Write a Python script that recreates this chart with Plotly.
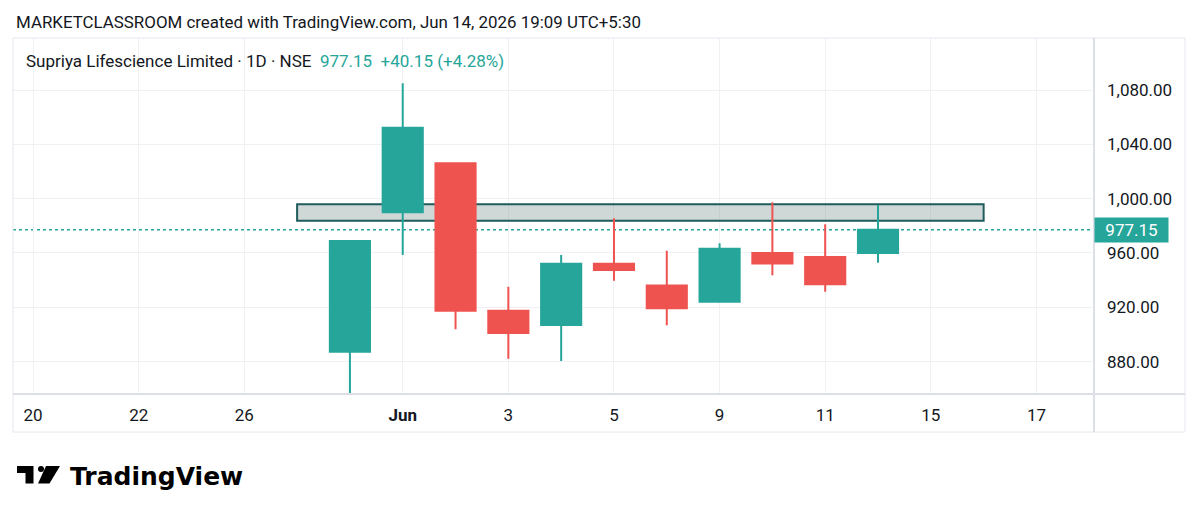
import pandas as pd
import plotly.graph_objects as go

"""Data"""
# trading calendar shown on the axis (weekends and the May 27 holiday are skipped)
holidays = ["2026-05-27"]
sessions = [
    d.strftime("%Y-%m-%d")
    for d in pd.bdate_range("2026-05-20", "2026-06-17")
    if d.strftime("%Y-%m-%d") not in holidays
]

dates = [
    "2026-05-29", "2026-06-01", "2026-06-02", "2026-06-03", "2026-06-04", "2026-06-05",
    "2026-06-08", "2026-06-09", "2026-06-10", "2026-06-11", "2026-06-12",
]
open_ = [887.2, 989.9, 1026.0, 917.4, 906.9, 952.0, 936.1, 924.1, 959.9, 957.0, 959.9]
high = [968.8, 1084.9, 1026.0, 935.1, 958.5, 985.5, 961.6, 967.1, 997.3, 981.1, 995.3]
low = [856.3, 958.5, 903.7, 882.1, 880.4, 939.5, 906.7, 924.1, 943.5, 931.4, 952.8]
close = [968.8, 1052.2, 917.4, 901.0, 952.0, 947.4, 919.2, 963.1, 952.3, 937.0, 977.15]

tick_dates = [
    "2026-05-20", "2026-05-22", "2026-05-26", "2026-06-01", "2026-06-03",
    "2026-06-05", "2026-06-09", "2026-06-11", "2026-06-15", "2026-06-17",
]
tick_text = ["20", "22", "26", "<b>Jun</b>", "3", "5", "9", "11", "15", "17"]
price_ticks = [880, 920, 960, 1000, 1040, 1080]

# drawn rectangle (resistance zone)
zone_start, zone_end = "2026-05-28", "2026-06-16"
zone_bottom, zone_top = 983.7, 995.8

title_text = "MARKETCLASSROOM created with TradingView.com, Jun 14, 2026 19:09 UTC+5:30"
symbol_text = "Supriya Lifescience Limited · 1D · NSE"

UP = "#26a69a"
DOWN = "#ef5350"
TEXT = "#131722"

# page geometry (pixels) -> paper coordinates
W, H = 1200, 520
L, R, T, B = 13, 106, 38, 126
PW, PH = W - L - R, H - T - B


def px(x):
    return (x - L) / PW


def py(y):
    return (H - B - y) / PH


x_idx = [sessions.index(d) for d in dates]
change = close[-1] - close[-2]
pct = change / close[-2] * 100

fig = go.Figure(
    go.Candlestick(
        x=x_idx,
        open=open_,
        high=high,
        low=low,
        close=close,
        increasing=dict(line=dict(color=UP, width=2), fillcolor=UP),
        decreasing=dict(line=dict(color=DOWN, width=2), fillcolor=DOWN),
        whiskerwidth=0,
        showlegend=False,
    )
)

fig.update_layout(
    width=W,
    height=H,
    margin=dict(l=L, r=R, t=T, b=B),
    paper_bgcolor="white",
    plot_bgcolor="white",
    font=dict(family="Roboto", color=TEXT, size=17),
    boxgap=0.24,
    boxgroupgap=0,
    hovermode=False,
)

fig.update_xaxes(
    range=[-0.38, 20.09],
    tickmode="array",
    tickvals=[sessions.index(d) for d in tick_dates],
    ticktext=tick_text,
    showgrid=True,
    gridcolor="#eff1f4",
    gridwidth=1,
    zeroline=False,
    showline=False,
    ticks="",
    ticklabelstandoff=9,
    tickfont=dict(size=17, color=TEXT),
    rangeslider=dict(visible=False),
    fixedrange=True,
)

fig.update_yaxes(
    side="right",
    range=[856.1, 1118.3],
    tickmode="array",
    tickvals=price_ticks,
    tickformat=",.2f",
    showgrid=True,
    gridcolor="#eff1f4",
    gridwidth=1,
    zeroline=False,
    showline=False,
    ticks="",
    ticklabelstandoff=12,
    tickfont=dict(size=17, color=TEXT),
    fixedrange=True,
)

# resistance zone (above the grid, under the candles)
fig.add_shape(
    type="rect",
    xref="x",
    yref="y",
    x0=sessions.index(zone_start),
    x1=sessions.index(zone_end),
    y0=zone_bottom,
    y1=zone_top,
    fillcolor="rgba(120,140,140,0.35)",
    line=dict(color="#1f5c5c", width=2),
    layer="between",
)

# last price line
fig.add_shape(
    type="line",
    xref="paper",
    yref="y",
    x0=0,
    x1=1,
    y0=close[-1],
    y1=close[-1],
    line=dict(color=UP, width=1.5, dash="dot"),
    layer="between",
)

# chart frame and pane separators
fig.add_shape(
    type="rect", xref="paper", yref="paper",
    x0=px(13), x1=px(1185), y0=py(432), y1=py(38),
    line=dict(color="#e6e8ee", width=1),
)
fig.add_shape(
    type="line", xref="paper", yref="paper",
    x0=px(13), x1=px(1185), y0=py(394), y1=py(394),
    line=dict(color="#dcdfe5", width=2),
)
fig.add_shape(
    type="line", xref="paper", yref="paper",
    x0=px(1094), x1=px(1094), y0=py(432), y1=py(38),
    line=dict(color="#dcdfe5", width=2),
)

# last price label on the price scale
fig.add_annotation(
    xref="paper", yref="y", x=1, y=close[-1],
    xanchor="left", yanchor="middle",
    text=f"{close[-1]:.2f}",
    showarrow=False,
    bgcolor=UP,
    width=69, height=20, borderpad=2,
    font=dict(color="white", size=17),
)

# header and legend texts
fig.add_annotation(
    xref="paper", yref="paper", x=px(14), y=py(22),
    xanchor="left", yanchor="middle",
    text=title_text, showarrow=False,
    font=dict(size=16.9, color=TEXT),
)
fig.add_annotation(
    xref="paper", yref="paper", x=px(24), y=py(61),
    xanchor="left", yanchor="middle",
    text=(
        f"{symbol_text}  <span style='color:{UP}'>{close[-1]:.2f}  "
        f"{change:+.2f} ({pct:+.2f}%)</span>"
    ),
    showarrow=False,
    font=dict(size=17, color=TEXT),
)

# TradingView logo
logo_t = [(17, 466), (33.5, 466), (33.5, 483.5), (25.5, 483.5), (25.5, 473), (17, 473)]
logo_slash = [(46, 466), (60, 466), (49.5, 483.5), (38, 483.5)]
for poly in (logo_t, logo_slash):
    path = "M " + " L ".join(f"{px(a)},{py(b)}" for a, b in poly) + " Z"
    fig.add_shape(type="path", xref="paper", yref="paper", path=path,
                  fillcolor="black", line=dict(width=0))
fig.add_shape(
    type="circle", xref="paper", yref="paper",
    x0=px(38), x1=px(44), y0=py(472), y1=py(466),
    fillcolor="black", line=dict(width=0),
)
fig.add_annotation(
    xref="paper", yref="paper", x=px(68), y=py(476),
    xanchor="left", yanchor="middle",
    text="<b>TradingView</b>", showarrow=False,
    font=dict(family="DejaVu Sans", size=25, color="black"),
)

fig.write_html(
    "out.html",
    config={"displayModeBar": False},
    post_script="document.body.style.margin = '0';",
)
